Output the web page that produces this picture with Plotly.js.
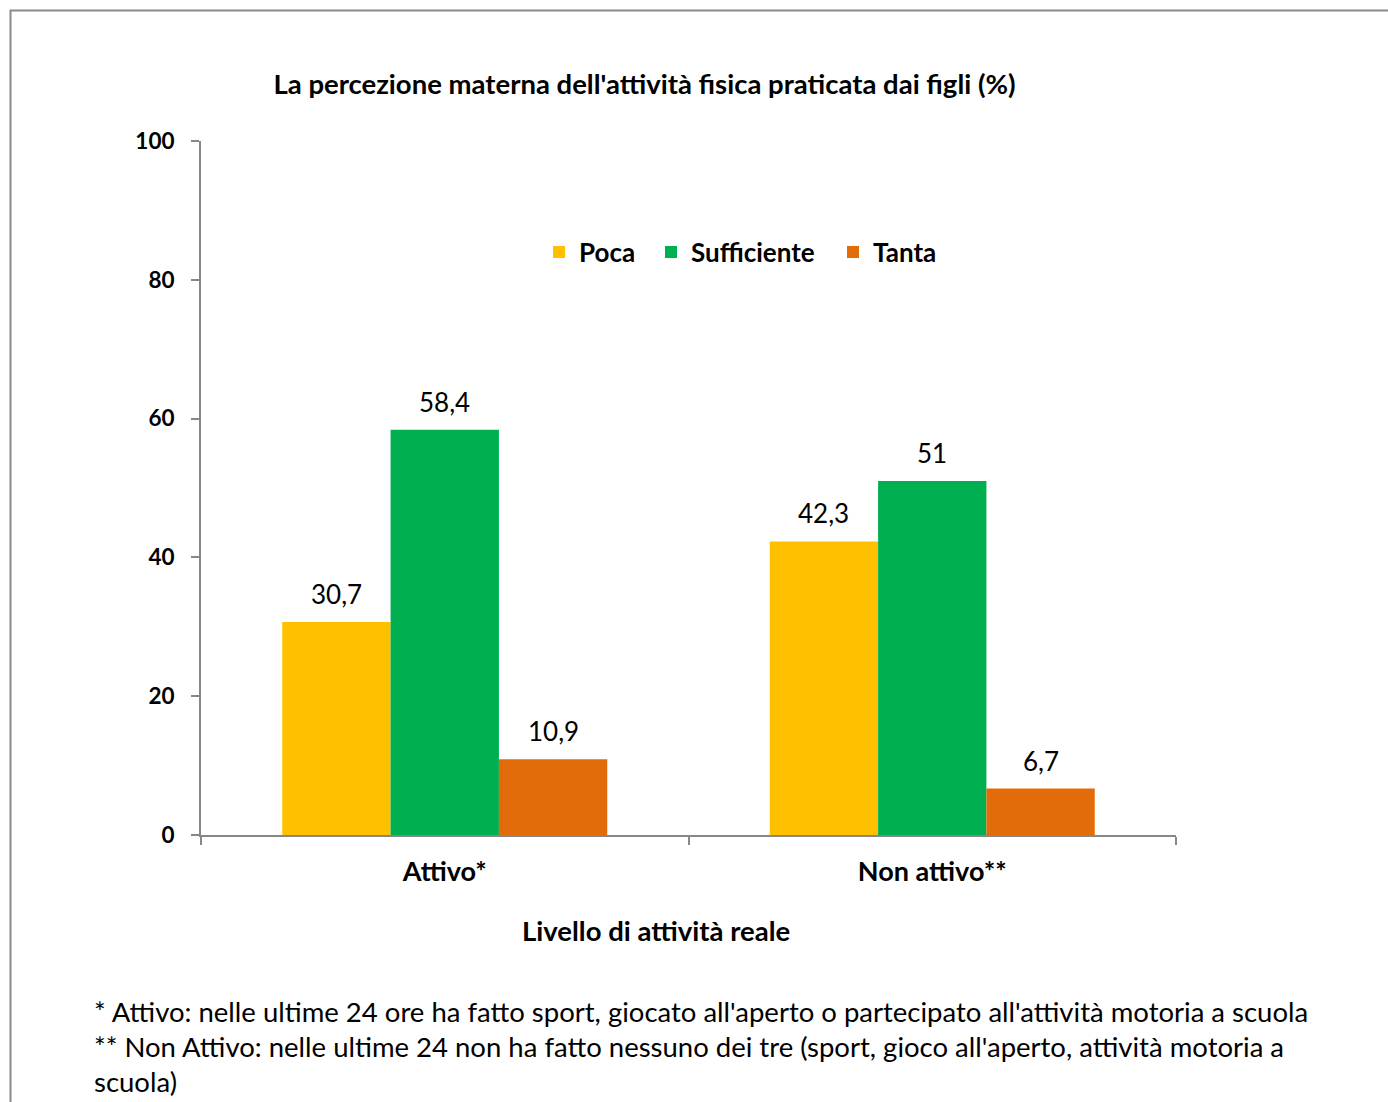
<!DOCTYPE html>
<html>
<head>
<meta charset="utf-8">
<script src="https://cdn.plot.ly/plotly-3.0.1.min.js"></script>
<style>
html,body{margin:0;padding:0;background:#fff;}
#chart{width:1388px;height:1102px;}
</style>
</head>
<body>
<div id="chart"></div>
<script>
const categories = ["Attivo*", "Non attivo**"];
const seriesNames = ["Poca", "Sufficiente", "Tanta"];
const poca = [30.7, 42.3];
const sufficiente = [58.4, 51];
const tanta = [10.9, 6.7];
const seriesValues = [poca, sufficiente, tanta];
const seriesColors = ["#FFC000", "#00B050", "#E36C0A"];
const yTicks = [0, 20, 40, 60, 80, 100];

const FONT = "Lato, 'Open Sans', sans-serif";
const fmt = v => String(v).replace(".", ",");
const legendIds = ["legend", "legend2", "legend3"];

const traces = seriesNames.map((name, i) => ({
  type: "bar",
  name: name,
  x: categories,
  y: seriesValues[i],
  legend: legendIds[i],
  marker: {color: seriesColors[i], line: {width: 0}},
  hoverinfo: "skip"
}));

// plot area geometry (px)
const L = 201, R = 1176, T = 141, B = 835;
const W = 1388, H = 1102;
const pw = R - L, ph = B - T;
const px = p => (p - L) / pw;
const py = p => (B - p) / ph;

const catWidth = pw / categories.length;
const bargap = 1 / 3;
const barW = catWidth * (1 - bargap) / seriesNames.length;

const annotations = [];
seriesValues.forEach((vals, i) => {
  vals.forEach((v, j) => {
    annotations.push({
      x: categories[j], y: v, xref: "x", yref: "y",
      text: fmt(v), showarrow: false,
      xanchor: "center", yanchor: "middle",
      xshift: (i - 1) * barW, yshift: 28,
      font: {family: FONT, size: 26, color: "#000"}
    });
  });
});

annotations.push({
  xref: "paper", yref: "paper", x: px(656), y: py(930),
  xanchor: "center", yanchor: "middle", showarrow: false,
  text: "<b>Livello di attività reale</b>",
  font: {family: FONT, size: 27.5, color: "#000"}
});

const footnotes = [
  "* Attivo: nelle ultime 24 ore ha fatto sport, giocato all'aperto o partecipato all'attività motoria a scuola",
  "** Non Attivo: nelle ultime 24 non ha fatto nessuno dei tre (sport, gioco all'aperto, attività motoria a",
  "scuola)"
];
const footY = [1011, 1046, 1081];
footnotes.forEach((t, k) => {
  annotations.push({
    xref: "paper", yref: "paper", x: px(92), y: py(footY[k]),
    xanchor: "left", yanchor: "middle", showarrow: false,
    text: t, font: {family: FONT, size: 27.5, color: "#000"}
  });
});

const legendX = [539, 651, 833];
const makeLegend = k => ({
  orientation: "h",
  x: px(legendX[k]), xanchor: "left",
  y: py(252), yanchor: "middle",
  font: {family: FONT, size: 26, color: "#000", weight: "bold"},
  bgcolor: "rgba(0,0,0,0)"
});

const layout = {
  width: W, height: H,
  paper_bgcolor: "#fff", plot_bgcolor: "#fff",
  margin: {l: L, r: W - R, t: T, b: H - B, pad: 0},
  separators: ",.",
  font: {family: FONT, color: "#000"},
  title: {
    text: "<b>La percezione materna dell'attività fisica praticata dai figli (%)</b>",
    x: 644.5 / W, xanchor: "center", xref: "container",
    y: 1 - 84 / H, yanchor: "middle", yref: "container",
    font: {family: FONT, size: 27.5, color: "#000"}
  },
  barmode: "group",
  bargap: bargap,
  bargroupgap: 0,
  showlegend: true,
  legend: makeLegend(0),
  legend2: makeLegend(1),
  legend3: makeLegend(2),
  xaxis: {
    type: "category",
    showline: true, linecolor: "#878787", linewidth: 2,
    ticks: "outside", tickson: "boundaries", ticklen: 8, tickcolor: "#878787", tickwidth: 2,
    showgrid: false, zeroline: false,
    tickfont: {family: FONT, size: 27, color: "#000", weight: "bold"},
    ticklabelstandoff: 12,
    fixedrange: true
  },
  yaxis: {
    range: [0, 100],
    tickvals: yTicks,
    ticktext: yTicks.map(v => String(v)),
    showline: true, linecolor: "#878787", linewidth: 2,
    ticks: "outside", ticklen: 8, tickcolor: "#878787", tickwidth: 2,
    showgrid: false, zeroline: false,
    tickfont: {family: FONT, size: 22.5, color: "#000", weight: "bold"},
    ticklabelstandoff: 12,
    fixedrange: true
  },
  annotations: annotations,
  shapes: [{
    type: "rect", xref: "paper", yref: "paper",
    x0: px(10.5), x1: px(1420), y0: py(1130), y1: py(10.5),
    line: {color: "#8a8a8a", width: 2}, fillcolor: "rgba(0,0,0,0)", layer: "below"
  }]
};

Plotly.newPlot("chart", traces, layout, {displayModeBar: false, staticPlot: true});
</script>
</body>
</html>
